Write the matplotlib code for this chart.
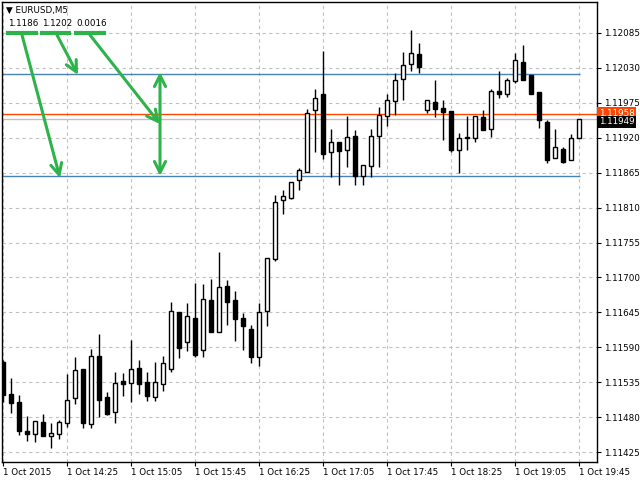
"""EURUSD M5 candlestick chart in MetaTrader style."""

import matplotlib
matplotlib.use("Agg")
import matplotlib.pyplot as plt
import numpy as np

# prices in units of 1e-5
opens = [111567, 111516, 111504, 111458, 111453, 111472, 111450, 111453, 111471, 111510,
         111556, 111469, 111576, 111512, 111488, 111537, 111534, 111557, 111535, 111512,
         111532, 111556, 111646, 111598, 111636, 111586, 111665, 111614, 111687, 111665,
         111636, 111619, 111575, 111647, 111729, 111822, 111825, 111853, 111866, 111964,
         111989, 111898, 111913, 111901, 111923, 111860, 111876, 111923, 111954, 111978,
         112013, 112036, 112052, 111964, 111976, 111967, 111962, 111901, 111920, 111920,
         111953, 111934, 111994, 111989, 112009, 112039, 112019, 111992, 111945, 111888,
         111902, 111885, 111920]
highs = [111570, 111542, 111515, 111482, 111474, 111485, 111471, 111475, 111548, 111575,
         111556, 111587, 111611, 111520, 111551, 111550, 111602, 111570, 111551, 111567,
         111576, 111661, 111646, 111660, 111691, 111690, 111698, 111740, 111696, 111679,
         111644, 111625, 111660, 111731, 111830, 111838, 111850, 111872, 111965, 111997,
         112057, 111934, 111913, 111954, 111932, 111877, 111934, 111968, 111989, 112022,
         112055, 112090, 112069, 111980, 112011, 111980, 111962, 111928, 111954, 111954,
         111964, 111997, 112025, 112014, 112054, 112066, 112019, 111992, 111948, 111934,
         111905, 111926, 111949]
lows = [111504, 111486, 111452, 111442, 111441, 111450, 111431, 111446, 111464, 111501,
        111463, 111463, 111480, 111483, 111471, 111513, 111504, 111516, 111505, 111505,
        111521, 111551, 111573, 111584, 111575, 111575, 111614, 111614, 111625, 111600,
        111586, 111565, 111560, 111624, 111726, 111800, 111824, 111838, 111866, 111898,
        111887, 111858, 111846, 111874, 111846, 111846, 111858, 111874, 111939, 111956,
        111980, 112025, 112022, 111959, 111953, 111916, 111898, 111865, 111901, 111913,
        111932, 111921, 111983, 111984, 112006, 112011, 111989, 111935, 111880, 111888,
        111880, 111885, 111920]
closes = [111515, 111502, 111458, 111453, 111474, 111450, 111455, 111472, 111507, 111554,
          111471, 111576, 111507, 111485, 111534, 111532, 111556, 111532, 111513, 111535,
          111565, 111647, 111589, 111639, 111578, 111666, 111614, 111685, 111661, 111634,
          111624, 111575, 111646, 111731, 111819, 111828, 111850, 111869, 111959, 111983,
          111894, 111913, 111899, 111921, 111860, 111877, 111923, 111956, 111980, 112011,
          112035, 112054, 112031, 111980, 111965, 111961, 111901, 111920, 111920, 111954,
          111932, 111994, 111989, 112011, 112042, 112011, 111989, 111948, 111885, 111905,
          111882, 111920, 111949]

time_labels = ["1 Oct 2015", "1 Oct 14:25", "1 Oct 15:05", "1 Oct 15:45", "1 Oct 16:25",
               "1 Oct 17:05", "1 Oct 17:45", "1 Oct 18:25", "1 Oct 19:05", "1 Oct 19:45"]
price_ticks = [1.12085, 1.12030, 1.11975, 1.11920, 1.11865, 1.11810, 1.11755,
               1.11700, 1.11645, 1.11590, 1.11535, 1.11480, 1.11425]
level_high = 1.12020
level_low = 1.11860
ask_price = 1.11958
bid_price = 1.11949
info_values = ["1.1186", "1.1202", "0.0016"]

o = np.array(opens) / 1e5
h = np.array(highs) / 1e5
lo = np.array(lows) / 1e5
c = np.array(closes) / 1e5
x = np.arange(len(o))

fs = 6.3
fig = plt.figure(figsize=(6.4, 4.8), dpi=100)
ax = fig.add_axes([2 / 640, 18 / 480, 595 / 640, 460 / 480])
ax.set_xlim(-0.125, 74.25)
ax.set_ylim(1.114093, 1.121338)

for spine in ax.spines.values():
    spine.set_color("black")
    spine.set_linewidth(1)

ax.set_yticks(price_ticks)
ax.set_yticklabels([f"{p:.5f}" for p in price_ticks])
ax.yaxis.tick_right()
ax.set_xticks(x[::8])
ax.set_xticklabels(time_labels, ha="left")
ax.tick_params(axis="both", labelsize=fs, length=3, pad=2, colors="black")
ax.tick_params(axis="x", pad=1)
ax.grid(True, color="#c0c0c0", linestyle=(0, (3, 3)), linewidth=0.8)
ax.set_axisbelow(True)

# reference lines
ax.axhline(bid_price, color="#c0c0c0", lw=1, zorder=1)
ax.axhline(ask_price, color="#ff4500", lw=1, zorder=1)
ax.hlines([level_high, level_low], -0.125, 72.1, color="#4682b4", lw=1, zorder=1)

# candles
up = c >= o
ax.vlines(x, lo, h, color="black", lw=1, zorder=2)
bottoms = np.minimum(o, c)
heights = np.maximum(np.abs(c - o), 0.000008)
ax.bar(x, heights, 0.6, bottom=bottoms, color=np.where(up, "white", "black"),
       edgecolor="black", linewidth=1, zorder=3)

# price tags on the right axis
ax.text(1.003, ask_price, f"{ask_price:.5f}", transform=ax.get_yaxis_transform(),
        fontsize=fs, color="white", va="center", ha="left",
        bbox=dict(boxstyle="square,pad=0.2", fc="#ff4500", ec="none"))
ax.text(1.003, bid_price - 0.00004, f"{bid_price:.5f}", transform=ax.get_yaxis_transform(),
        fontsize=fs, color="white", va="center", ha="left",
        bbox=dict(boxstyle="square,pad=0.2", fc="black", ec="none"))

# header
fig.text(6 / 640, 1 - 10 / 480, "▼ EURUSD,M5", fontsize=fs, va="center")
green = "#2db34a"
for val, x0, x1 in zip(info_values, [8, 42, 76], [36, 69, 104]):
    fig.text(x0 / 640, 1 - 23 / 480, val, fontsize=fs, va="center")
    fig.add_artist(plt.Line2D([x0 / 640, x1 / 640], [1 - 33 / 480] * 2, color=green, lw=3))


def fig_xy(px, py):
    return (px / 640, 1 - py / 480)


arrows = [((22, 35), (60, 178)), ((57, 35), (78, 75)), ((90, 35), (160, 124))]
for start, end in arrows:
    ax.annotate("", xy=fig_xy(*end), xytext=fig_xy(*start), xycoords="figure fraction",
                textcoords="figure fraction",
                arrowprops=dict(arrowstyle="->,head_length=0.8,head_width=0.4",
                                color=green, lw=2.2, shrinkA=0, shrinkB=0))
ax.annotate("", xy=fig_xy(160, 72), xytext=fig_xy(160, 176), xycoords="figure fraction",
            textcoords="figure fraction",
            arrowprops=dict(arrowstyle="<->,head_length=0.8,head_width=0.4",
                            color=green, lw=2.2, shrinkA=0, shrinkB=0))

fig.savefig("out.png", dpi=100)
